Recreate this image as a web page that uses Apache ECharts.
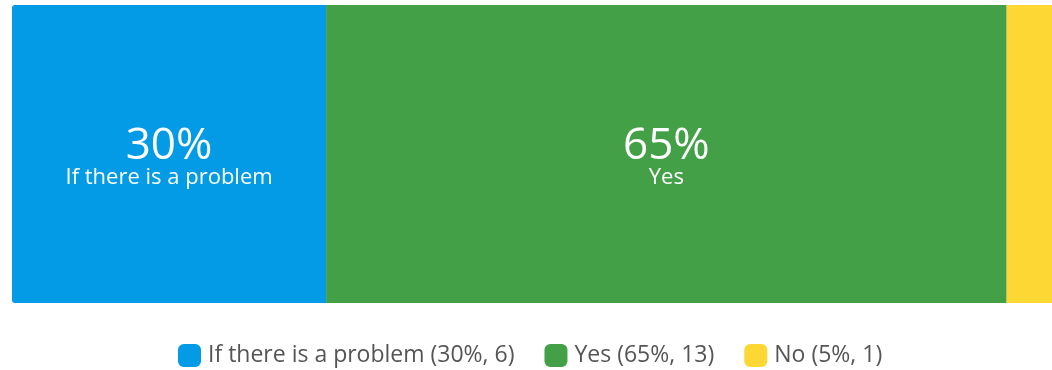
<!DOCTYPE html>
<html>
<head>
<meta charset="utf-8">
<script src="https://cdn.jsdelivr.net/npm/echarts@6/dist/echarts.min.js"></script>
<style>
  html, body { margin: 0; padding: 0; background: #fff; overflow: hidden; }
  /* the bar runs a little past the right edge of the window */
  #main { width: 1059px; height: 370px; }
</style>
</head>
<body>
<div id="main"></div>
<script>
var answers = ['If there is a problem', 'Yes', 'No']
var counts = [6, 13, 1]
var percents = [30, 65, 5]
var colors = ['#039be5', '#43a047', '#fdd835']

var chart = echarts.init(document.getElementById('main'))

var series = answers.map(function (name, i) {
  var first = i === 0
  return {
    name: name,
    type: 'bar',
    stack: 'total',
    barWidth: '100%',
    data: [percents[i]],
    itemStyle: {
      color: colors[i],
      borderRadius: first ? [3, 0, 0, 3] : 0
    },
    label: {
      // the thin slice has no room for a label
      show: percents[i] >= 10,
      position: 'inside',
      offset: [0, 6],
      formatter: '{pct|' + percents[i] + '%}\n{name|' + name + '}',
      rich: {
        pct: { fontSize: 44, lineHeight: 36, color: '#fff', fontFamily: 'Open Sans' },
        name: { fontSize: 22, lineHeight: 28, color: '#fff', fontFamily: 'Open Sans' }
      }
    }
  }
})

chart.setOption({
  animation: false,
  grid: { left: 12, right: 0, top: 5, bottom: 67 },
  xAxis: { type: 'value', min: 0, max: 100, show: false },
  yAxis: { type: 'category', data: ['answers'], show: false },
  legend: {
    top: 339,
    left: 173,
    itemWidth: 23,
    itemHeight: 23,
    itemGap: 30,
    icon: 'roundRect',
    textStyle: { fontSize: 23, color: '#555', fontFamily: 'Open Sans', padding: [0, 0, 0, 2] },
    formatter: function (name) {
      var i = answers.indexOf(name)
      return name + ' (' + percents[i] + '%, ' + counts[i] + ')'
    }
  },
  series: series
})
</script>
</body>
</html>
